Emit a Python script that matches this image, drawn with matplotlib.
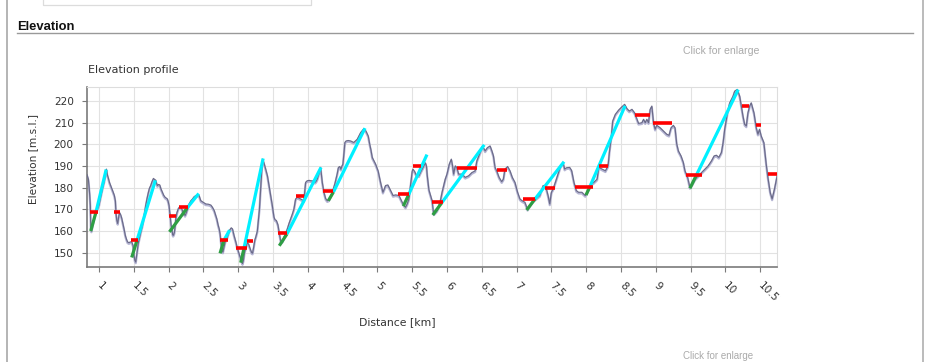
import matplotlib
matplotlib.use("Agg")
import matplotlib.pyplot as plt
from matplotlib.lines import Line2D
from matplotlib.transforms import offset_copy

# ---------------- data ----------------
profile_km = [0.828, 0.847, 0.856, 0.866, 0.875, 0.882, 0.890, 0.905, 0.930, 0.952, 0.975, 1.000,
              1.025, 1.048, 1.075, 1.106, 1.120, 1.134, 1.150, 1.168, 1.185, 1.201, 1.220, 1.235,
              1.245, 1.255, 1.269, 1.285, 1.297, 1.312, 1.326, 1.343, 1.360, 1.378, 1.393, 1.410,
              1.430, 1.450, 1.470, 1.489, 1.500, 1.515, 1.528, 1.540, 1.552, 1.565, 1.576, 1.600,
              1.624, 1.648, 1.671, 1.690, 1.710, 1.725, 1.743, 1.762, 1.782, 1.800, 1.815, 1.828,
              1.839, 1.855, 1.873, 1.890, 1.911, 1.930, 1.950, 1.968, 1.983, 1.995, 2.007, 2.015,
              2.022, 2.035, 2.046, 2.058, 2.065, 2.075, 2.084, 2.093, 2.103, 2.120, 2.141, 2.160,
              2.175, 2.192, 2.209, 2.224, 2.237, 2.255, 2.271, 2.295, 2.320, 2.343, 2.365, 2.391,
              2.415, 2.439, 2.450, 2.463, 2.500, 2.535, 2.570, 2.607, 2.630, 2.655, 2.675, 2.693,
              2.710, 2.727, 2.740, 2.755, 2.770, 2.780, 2.795, 2.813, 2.830, 2.847, 2.865, 2.880,
              2.900, 2.918, 2.940, 2.966, 2.985, 3.005, 3.022, 3.038, 3.050, 3.062, 3.075, 3.090,
              3.110, 3.130, 3.150, 3.170, 3.194, 3.206, 3.222, 3.240, 3.254, 3.275, 3.290, 3.305,
              3.318, 3.330, 3.342, 3.352, 3.370, 3.395, 3.420, 3.443, 3.465, 3.490, 3.514, 3.530,
              3.548, 3.570, 3.585, 3.596, 3.610, 3.624, 3.640, 3.658, 3.680, 3.706, 3.730, 3.754,
              3.780, 3.801, 3.815, 3.825, 3.849, 3.875, 3.897, 3.925, 3.945, 3.958, 3.969, 3.990,
              4.020, 4.045, 4.065, 4.090, 4.105, 4.120, 4.136, 4.160, 4.184, 4.196, 4.208, 4.232,
              4.256, 4.280, 4.300, 4.320, 4.352, 4.390, 4.423, 4.440, 4.460, 4.475, 4.490, 4.505,
              4.520, 4.533, 4.550, 4.580, 4.615, 4.660, 4.711, 4.760, 4.806, 4.835, 4.868, 4.890,
              4.905, 4.926, 4.950, 4.974, 5.010, 5.045, 5.079, 5.100, 5.117, 5.150, 5.189, 5.225,
              5.261, 5.310, 5.356, 5.380, 5.404, 5.428, 5.452, 5.476, 5.500, 5.510, 5.535, 5.560,
              5.596, 5.630, 5.667, 5.690, 5.705, 5.715, 5.740, 5.786, 5.800, 5.810, 5.830, 5.857,
              5.880, 5.905, 5.930, 5.952, 5.975, 6.000, 6.033, 6.062, 6.080, 6.095, 6.119, 6.140,
              6.167, 6.215, 6.262, 6.310, 6.357, 6.405, 6.429, 6.476, 6.510, 6.548, 6.580, 6.619,
              6.645, 6.667, 6.690, 6.714, 6.748, 6.786, 6.810, 6.833, 6.871, 6.905, 6.938, 6.976,
              7.014, 7.048, 7.080, 7.119, 7.157, 7.195, 7.238, 7.285, 7.333, 7.381, 7.415, 7.452,
              7.476, 7.500, 7.524, 7.557, 7.595, 7.633, 7.667, 7.690, 7.715, 7.762, 7.790, 7.824,
              7.857, 7.890, 7.938, 7.986, 8.024, 8.071, 8.110, 8.157, 8.181, 8.229, 8.276, 8.314,
              8.333, 8.362, 8.381, 8.419, 8.467, 8.514, 8.552, 8.586, 8.619, 8.657, 8.695, 8.729,
              8.752, 8.800, 8.824, 8.848, 8.871, 8.895, 8.919, 8.943, 8.967, 8.990, 9.014, 9.062,
              9.110, 9.157, 9.190, 9.219, 9.252, 9.276, 9.300, 9.324, 9.362, 9.395, 9.419, 9.457,
              9.490, 9.524, 9.562, 9.610, 9.657, 9.705, 9.752, 9.800, 9.838, 9.871, 9.905, 9.943,
              9.967, 9.990, 10.029, 10.062, 10.110, 10.133, 10.171, 10.205, 10.229, 10.252, 10.276,
              10.300, 10.324, 10.348, 10.371, 10.410, 10.443, 10.467, 10.490, 10.514, 10.552,
              10.586, 10.610, 10.643, 10.671, 10.705, 10.743]
profile_m = [186.0, 184.0, 181.0, 177.0, 172.0, 162.0, 160.0, 162.0, 166.0, 168.5, 170.0, 172.0,
             176.0, 179.4, 183.0, 188.6, 186.0, 184.5, 182.5, 181.0, 179.5, 178.2, 176.5, 174.0,
             168.0, 165.0, 163.5, 167.0, 168.5, 167.5, 166.0, 163.5, 161.0, 158.0, 156.4, 155.0,
             154.6, 155.0, 155.0, 153.4, 149.5, 146.5, 145.7, 148.5, 151.5, 154.5, 156.0, 159.5,
             162.6, 167.0, 171.8, 175.0, 177.9, 179.8, 181.0, 182.8, 184.3, 183.8, 183.5, 182.0,
             181.0, 181.5, 181.3, 179.5, 177.9, 176.5, 175.6, 175.2, 174.8, 173.5, 171.8, 169.0,
             167.2, 163.0, 161.0, 158.5, 158.0, 158.5, 159.5, 162.0, 165.6, 168.5, 170.5, 171.2,
             171.0, 170.0, 168.7, 167.8, 167.2, 168.5, 170.2, 172.5, 174.0, 174.8, 175.8, 176.4,
             176.6, 176.4, 175.2, 174.0, 173.2, 172.5, 172.4, 172.0, 171.0, 169.5, 167.5, 165.6,
             163.0, 161.0, 158.7, 154.0, 150.5, 150.3, 152.5, 155.0, 156.5, 157.5, 159.5, 160.6,
             161.5, 161.0, 158.0, 155.0, 152.5, 150.3, 148.5, 147.3, 146.0, 145.0, 146.5, 150.0,
             152.5, 154.5, 154.0, 152.0, 150.0, 149.8, 152.5, 156.0, 157.4, 160.0, 165.0, 170.0,
             177.0, 184.0, 190.0, 193.2, 191.5, 188.6, 185.5, 181.0, 177.0, 171.8, 166.4, 165.2,
             164.9, 163.0, 160.0, 158.0, 155.5, 154.9, 155.5, 157.2, 159.0, 161.0, 163.5, 165.6,
             168.0, 170.2, 173.0, 174.8, 175.6, 175.2, 174.8, 174.3, 174.0, 179.0, 182.5, 183.2,
             183.4, 183.2, 183.2, 182.8, 182.5, 183.0, 184.0, 186.5, 189.4, 186.0, 182.5, 177.9,
             175.0, 174.0, 174.3, 175.5, 177.9, 182.0, 186.5, 189.4, 189.8, 188.5, 190.0, 190.9,
             196.0, 200.9, 201.6, 201.8, 201.6, 200.9, 202.4, 205.5, 207.3, 206.2, 203.9, 200.0,
             197.8, 194.0, 192.4, 190.9, 187.8, 182.5, 177.9, 179.5, 181.0, 181.3, 178.7, 176.4,
             176.7, 176.4, 173.3, 172.0, 171.0, 172.5, 174.8, 181.0, 187.5, 188.6, 187.5, 185.7,
             185.5, 187.8, 190.1, 191.5, 190.0, 186.0, 179.0, 174.0, 170.0, 167.9, 168.5, 169.5,
             171.5, 174.0, 178.0, 181.0, 184.0, 186.3, 190.9, 193.2, 190.1, 186.3, 190.1, 189.4,
             186.3, 186.3, 184.8, 185.5, 187.0, 187.8, 192.4, 196.3, 199.3, 197.0, 198.5, 199.3,
             197.0, 194.7, 189.4, 187.8, 184.8, 182.8, 184.0, 188.6, 189.8, 187.8, 184.8, 182.5,
             177.9, 174.8, 174.0, 173.3, 170.0, 172.0, 174.0, 175.2, 176.4, 181.0, 181.0, 176.4,
             172.5, 177.9, 179.4, 182.5, 186.3, 190.1, 191.7, 188.6, 189.2, 189.4, 188.0, 182.5,
             178.7, 177.9, 177.9, 176.4, 178.7, 181.7, 182.5, 184.0, 189.4, 188.6, 187.8, 190.1,
             196.3, 203.9, 210.8, 213.9, 215.9, 217.4, 218.5, 216.5, 215.4, 216.2, 214.6, 211.6,
             209.7, 210.0, 211.6, 210.0, 211.6, 210.0, 216.2, 217.7, 210.0, 207.0, 208.8, 207.7,
             206.2, 204.7, 204.2, 207.7, 208.8, 207.7, 200.3, 197.0, 194.7, 191.7, 187.8, 184.8,
             180.1, 181.7, 184.0, 185.5, 187.0, 188.6, 190.1, 192.4, 194.7, 195.0, 194.0, 196.3,
             200.9, 207.0, 214.6, 219.2, 222.3, 224.6, 225.4, 222.3, 217.7, 213.1, 209.3,
             208.5, 214.6, 217.7, 219.2, 214.6, 207.7, 204.7, 207.0, 203.9, 200.9,
             190.9, 184.8, 177.9, 174.8, 179.4, 185.5]

# ascent segments (cyan)
climb_start_km = [0.957, 1.545, 2.265, 2.796, 3.083, 3.700, 4.368, 5.446, 5.921, 7.264, 8.055, 9.578]
climb_start_m = [168.8, 155.6, 170.6, 155.8, 152.0, 158.6, 178.0, 176.6, 172.9, 174.8, 180.7, 185.5]
climb_end_km = [1.103, 1.810, 2.433, 2.876, 3.358, 4.190, 4.822, 5.712, 6.535, 7.681, 8.558, 10.184]
climb_end_m = [188.4, 183.4, 177.3, 160.4, 193.5, 189.4, 207.5, 195.3, 199.8, 192.0, 217.8, 225.3]

# steep starts (green)
steep_start_km = [0.881, 1.470, 2.012, 2.739, 3.036, 3.590, 4.295, 5.372, 5.795, 7.144, 7.997, 9.490]
steep_start_m = [160.0, 147.8, 159.6, 149.7, 145.4, 153.2, 174.0, 171.5, 167.4, 169.7, 176.6, 179.7]
steep_end_km = [0.957, 1.545, 2.265, 2.796, 3.083, 3.700, 4.368, 5.446, 5.921, 7.264, 8.055, 9.578]
steep_end_m = [168.8, 155.6, 170.6, 155.8, 152.0, 158.6, 178.0, 176.6, 172.9, 174.8, 180.7, 185.5]

# level markers (red)
level_from_km = [0.871, 1.220, 1.455, 2.010, 2.154, 2.739, 2.968, 3.130, 3.576, 3.830, 4.222, 5.300, 5.507,
                 5.780, 6.148, 6.723, 7.087, 7.408, 7.839, 8.188, 8.701, 8.964, 9.434, 10.239, 10.440, 10.616]
level_to_km = [0.981, 1.300, 1.565, 2.106, 2.283, 2.858, 3.122, 3.216, 3.705, 3.950, 4.366, 5.458, 5.622,
               5.938, 6.427, 6.858, 7.264, 7.552, 8.093, 8.318, 8.917, 9.228, 9.660, 10.339, 10.510, 10.760]
level_m = [168.6, 168.6, 155.7, 166.8, 171.0, 155.7, 152.0, 155.2, 159.0, 176.0, 178.5, 176.9, 189.9,
           173.2, 188.9, 188.0, 174.6, 179.7, 180.5, 189.9, 213.5, 209.7, 185.7, 217.7, 208.8, 186.2]

x_ticks = [1, 1.5, 2, 2.5, 3, 3.5, 4, 4.5, 5, 5.5, 6, 6.5, 7, 7.5, 8, 8.5, 9, 9.5, 10, 10.5]
x_tick_labels = ["1", "1.5", "2", "2.5", "3", "3.5", "4", "4.5", "5", "5.5", "6", "6.5",
                 "7", "7.5", "8", "8.5", "9", "9.5", "10", "10.5"]
y_ticks = [150, 160, 170, 180, 190, 200, 210, 220]
y_tick_labels = ["150", "160", "170", "180", "190", "200", "210", "220"]

# ---------------- figure ----------------
W, H = 926, 362
fig = plt.figure(figsize=(W / 100, H / 100), dpi=100)
fig.patch.set_facecolor("white")


def fx(px):
    return px / W


def fy(py):
    return 1 - py / H


# page decoration
fig.add_artist(Line2D([fx(7), fx(7)], [0, 1], color="#a0a0a0", lw=1.1))
fig.add_artist(Line2D([fx(923), fx(923)], [0, 1], color="#a8a8a8", lw=1.1))
fig.add_artist(Line2D([fx(43), fx(43), fx(311), fx(311)], [1, fy(5), fy(5), 1], color="#dcdcdc", lw=0.9))
fig.add_artist(Line2D([fx(17), fx(913)], [fy(33.3), fy(33.3)], color="#999999", lw=1.0))
fig.text(fx(17), fy(29.5), "Elevation", fontsize=9.4, fontweight="bold",
         family="Liberation Sans", color="#111111", va="baseline", ha="left")
fig.text(fx(88), fy(72.7), "Elevation profile", fontsize=8.0, family="DejaVu Sans",
         color="#333333", va="baseline", ha="left")
fig.text(fx(683), fy(53.5), "Click for enlarge", fontsize=7.6, family="Liberation Sans",
         color="#aaaaaa", va="baseline", ha="left")
fig.text(fx(683), fy(361.0), "Click for enlarge", fontsize=7.0, family="Liberation Sans",
         color="#aaaaaa", va="bottom", ha="left")

# axes
ax = fig.add_axes([fx(87), fy(267), (777 - 87) / W, (267 - 87) / H])
ax.set_xlim(0.8276, 10.741)
ax.set_ylim(143.4, 226.5)

ax.set_xticks(x_ticks)
ax.set_xticklabels(x_tick_labels)
ax.set_yticks(y_ticks)
ax.set_yticklabels(y_tick_labels)
ax.grid(True, color="#e2e2e2", lw=0.8, zorder=0)
ax.set_axisbelow(True)

for s in ("left", "bottom"):
    ax.spines[s].set_color("#7a7a7a")
    ax.spines[s].set_linewidth(1.2)
for s in ("top", "right"):
    ax.spines[s].set_color("#dddddd")
    ax.spines[s].set_linewidth(0.8)

ax.tick_params(axis="both", direction="out", length=3.5, width=0.8, color="#7a7a7a",
               labelsize=7.6, labelcolor="#333333")
ax.tick_params(axis="y", pad=6)
ax.tick_params(axis="x", pad=8.5)
for lab in ax.get_xticklabels():
    lab.set_rotation(-45)
    lab.set_ha("left")
    lab.set_va("center")
    lab.set_rotation_mode("anchor")

ax.set_xlabel("Distance [km]", fontsize=7.8, color="#333333")
ax.xaxis.label.set_va("center")
ax.xaxis.set_label_coords(0.45, -0.307)
ax.set_ylabel("Elevation [m.s.l.]", fontsize=7.6, color="#333333")
ax.yaxis.label.set_va("center")
ax.yaxis.set_label_coords(-0.0778, 0.6)

# profile (with light shadow)
shadow = offset_copy(ax.transData, fig=fig, x=0, y=-1.2, units="dots")
ax.plot(profile_km, profile_m, color="#b6b6d4", lw=1.6, transform=shadow, zorder=2,
        solid_joinstyle="round")
ax.plot(profile_km, profile_m, color="#6a6a88", lw=0.85, zorder=3, solid_joinstyle="round")

for x0, y0, x1, y1 in zip(climb_start_km, climb_start_m, climb_end_km, climb_end_m):
    ax.plot([x0, x1], [y0, y1], color="#00f0ff", lw=2.3, zorder=4, solid_capstyle="butt")
for x0, y0, x1, y1 in zip(steep_start_km, steep_start_m, steep_end_km, steep_end_m):
    ax.plot([x0, x1], [y0, y1], color="#2e9e44", lw=2.3, zorder=5, solid_capstyle="butt")
for x0, x1, y in zip(level_from_km, level_to_km, level_m):
    ax.plot([x0, x1], [y, y], color="#ff0000", lw=2.6, zorder=6, solid_capstyle="butt")

fig.savefig("out.png", dpi=100, facecolor="white")
